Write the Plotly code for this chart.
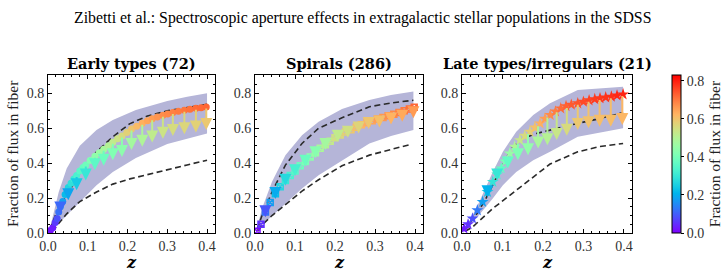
import math
import plotly.graph_objects as go
from plotly.colors import sample_colorscale

# ---------------- data ----------------
TITLES = ["Early types (72)", "Spirals (286)", "Late types/irregulars (21)"]

# Panel 1 : Early types
p1_z = [0.006, 0.012, 0.018, 0.023, 0.027, 0.031, 0.037, 0.043, 0.051, 0.058, 0.065, 0.072, 0.080, 0.088,
        0.095, 0.106, 0.118, 0.129, 0.140, 0.152, 0.163, 0.175, 0.186, 0.198, 0.210, 0.223, 0.237, 0.250,
        0.262, 0.275, 0.289, 0.301, 0.314, 0.328, 0.343, 0.357, 0.372, 0.385, 0.398]
p1_f = [0.015, 0.030, 0.060, 0.083, 0.120, 0.150, 0.180, 0.220, 0.260, 0.285, 0.310, 0.330, 0.355, 0.375,
        0.390, 0.415, 0.440, 0.460, 0.480, 0.500, 0.520, 0.540, 0.555, 0.575, 0.595, 0.612, 0.628, 0.643,
        0.655, 0.665, 0.675, 0.682, 0.690, 0.697, 0.703, 0.709, 0.714, 0.718, 0.722]
p1_arrow_z = [0.031, 0.051, 0.072, 0.095, 0.118, 0.140, 0.163, 0.186, 0.210, 0.237, 0.262, 0.289, 0.314, 0.343, 0.372, 0.398]
p1_arrow_top = [0.150, 0.260, 0.330, 0.390, 0.440, 0.480, 0.520, 0.555, 0.595, 0.628, 0.655, 0.675, 0.690, 0.703, 0.714, 0.722]
p1_arrow_tip = [0.111, 0.188, 0.245, 0.300, 0.360, 0.385, 0.417, 0.436, 0.475, 0.494, 0.519, 0.540, 0.555, 0.565, 0.576, 0.590]
p1_band_z = [0.003, 0.012, 0.027, 0.047, 0.080, 0.122, 0.163, 0.221, 0.300, 0.350, 0.400]
p1_band_hi = [0.010, 0.100, 0.235, 0.370, 0.500, 0.590, 0.647, 0.704, 0.756, 0.780, 0.800]
p1_band_lo = [0.000, 0.020, 0.054, 0.100, 0.178, 0.274, 0.350, 0.430, 0.510, 0.540, 0.570]
p1_dash_hi_z = [0.005, 0.020, 0.047, 0.080, 0.122, 0.163, 0.205, 0.250, 0.300, 0.350, 0.400]
p1_dash_hi = [0.020, 0.110, 0.216, 0.340, 0.465, 0.551, 0.625, 0.670, 0.700, 0.720, 0.737]
p1_dash_lo_z = [0.010, 0.020, 0.047, 0.080, 0.122, 0.163, 0.206, 0.250, 0.300, 0.350, 0.400]
p1_dash_lo = [0.010, 0.035, 0.110, 0.180, 0.235, 0.280, 0.310, 0.335, 0.365, 0.390, 0.417]

# Panel 2 : Spirals
p2_z = [0.005, 0.015, 0.026, 0.038, 0.051, 0.063, 0.076, 0.088, 0.100, 0.113, 0.126, 0.138, 0.151, 0.163,
        0.176, 0.188, 0.200, 0.213, 0.226, 0.240, 0.253, 0.266, 0.280, 0.293, 0.306, 0.320, 0.333, 0.347,
        0.360, 0.373, 0.386, 0.398]
p2_f = [0.010, 0.050, 0.120, 0.175, 0.225, 0.265, 0.300, 0.330, 0.355, 0.385, 0.410, 0.435, 0.460, 0.485,
        0.505, 0.525, 0.545, 0.562, 0.578, 0.592, 0.606, 0.620, 0.632, 0.643, 0.653, 0.662, 0.672, 0.680,
        0.690, 0.700, 0.710, 0.720]
p2_arrow_z = [0.026, 0.051, 0.076, 0.100, 0.126, 0.151, 0.176, 0.207, 0.232, 0.259, 0.284, 0.311, 0.340, 0.368, 0.396]
p2_arrow_top = [0.120, 0.225, 0.300, 0.355, 0.410, 0.460, 0.505, 0.565, 0.588, 0.614, 0.640, 0.660, 0.678, 0.695, 0.718]
p2_arrow_tip = [0.090, 0.195, 0.270, 0.325, 0.380, 0.428, 0.475, 0.522, 0.545, 0.570, 0.595, 0.605, 0.622, 0.637, 0.657]
p2_band_z = [0.003, 0.0175, 0.0425, 0.076, 0.1175, 0.159, 0.2175, 0.286, 0.340, 0.396]
p2_band_hi = [0.010, 0.140, 0.293, 0.446, 0.560, 0.637, 0.710, 0.762, 0.790, 0.810]
p2_band_lo = [0.000, 0.044, 0.100, 0.169, 0.255, 0.331, 0.417, 0.513, 0.555, 0.590]
p2_dash_hi_z = [0.005, 0.0175, 0.0425, 0.076, 0.1175, 0.159, 0.2175, 0.286, 0.340, 0.396]
p2_dash_hi = [0.020, 0.100, 0.235, 0.389, 0.513, 0.600, 0.660, 0.723, 0.745, 0.760]
p2_dash_lo_z = [0.008, 0.0175, 0.0425, 0.076, 0.1175, 0.159, 0.2175, 0.286, 0.340, 0.388]
p2_dash_lo = [0.010, 0.045, 0.100, 0.165, 0.240, 0.305, 0.385, 0.446, 0.480, 0.507]

# Panel 3 : Late types / irregulars
p3_z = [0.005, 0.015, 0.026, 0.038, 0.051, 0.063, 0.076, 0.087, 0.097, 0.107, 0.118, 0.130, 0.143, 0.155,
        0.168, 0.180, 0.193, 0.205, 0.218, 0.231, 0.244, 0.257, 0.270, 0.286, 0.300, 0.314, 0.328, 0.341,
        0.355, 0.369, 0.383, 0.398]
p3_f = [0.025, 0.050, 0.083, 0.130, 0.178, 0.235, 0.293, 0.335, 0.370, 0.410, 0.456, 0.495, 0.532, 0.557,
        0.580, 0.604, 0.628, 0.655, 0.676, 0.696, 0.714, 0.727, 0.735, 0.743, 0.752, 0.760, 0.767, 0.772,
        0.777, 0.781, 0.788, 0.794]
p3_arrow_z = [0.038, 0.063, 0.087, 0.113, 0.138, 0.163, 0.188, 0.211, 0.234, 0.259, 0.286, 0.3125, 0.340, 0.3675, 0.396]
p3_arrow_top = [0.130, 0.235, 0.335, 0.440, 0.520, 0.575, 0.620, 0.670, 0.700, 0.725, 0.743, 0.760, 0.770, 0.780, 0.794]
p3_arrow_tip = [0.110, 0.205, 0.300, 0.370, 0.417, 0.446, 0.484, 0.503, 0.532, 0.557, 0.590, 0.600, 0.608, 0.608, 0.618]
p3_band_z = [0.003, 0.0175, 0.0425, 0.076, 0.101, 0.134, 0.176, 0.2175, 0.286, 0.340, 0.398]
p3_band_hi = [0.010, 0.063, 0.178, 0.350, 0.465, 0.580, 0.676, 0.743, 0.819, 0.830, 0.838]
p3_band_lo = [0.000, 0.034, 0.100, 0.197, 0.274, 0.350, 0.417, 0.465, 0.551, 0.575, 0.600]
p3_dash_hi_z = [0.005, 0.034, 0.059, 0.084, 0.109, 0.126, 0.151, 0.184, 0.2175, 0.286, 0.340, 0.398]
p3_dash_hi = [0.020, 0.100, 0.197, 0.312, 0.427, 0.494, 0.542, 0.570, 0.590, 0.628, 0.655, 0.690]
p3_dash_lo_z = [0.008, 0.026, 0.076, 0.1175, 0.159, 0.2175, 0.286, 0.340, 0.398]
p3_dash_lo = [0.010, 0.034, 0.140, 0.216, 0.293, 0.395, 0.465, 0.495, 0.513]

PANELS = [
    dict(z=p1_z, f=p1_f, az=p1_arrow_z, at=p1_arrow_top, ap=p1_arrow_tip, bz=p1_band_z, bh=p1_band_hi,
         bl=p1_band_lo, dhz=p1_dash_hi_z, dh=p1_dash_hi, dlz=p1_dash_lo_z, dl=p1_dash_lo, sym="circle"),
    dict(z=p2_z, f=p2_f, az=p2_arrow_z, at=p2_arrow_top, ap=p2_arrow_tip, bz=p2_band_z, bh=p2_band_hi,
         bl=p2_band_lo, dhz=p2_dash_hi_z, dh=p2_dash_hi, dlz=p2_dash_lo_z, dl=p2_dash_lo, sym="square-x-open"),
    dict(z=p3_z, f=p3_f, az=p3_arrow_z, at=p3_arrow_top, ap=p3_arrow_tip, bz=p3_band_z, bh=p3_band_hi,
         bl=p3_band_lo, dhz=p3_dash_hi_z, dh=p3_dash_hi, dlz=p3_dash_lo_z, dl=p3_dash_lo, sym="star"),
]

CMIN, CMAX = 0.0, 0.83

# matplotlib "rainbow" colormap
def rainbow(t):
    r = min(1.0, abs(2 * t - 0.5))
    g = math.sin(math.pi * t)
    b = math.cos(math.pi * t / 2)
    return "rgb(%d,%d,%d)" % (round(255 * r), round(255 * max(0, g)), round(255 * max(0, b)))

RAINBOW = [[i / 20, rainbow(i / 20)] for i in range(21)]

W, H = 724, 274
XDOM = [(48, 215), (255, 423), (462, 632)]
YTOP, YBOT = 75, 233
TIMES = "Liberation Serif"
CM = "DejaVu Serif"
BAND = "rgb(181,181,216)"

fig = go.Figure()
annotations = []

for i, p in enumerate(PANELS):
    xa = "x" if i == 0 else "x%d" % (i + 1)
    ya = "y" if i == 0 else "y%d" % (i + 1)
    # band
    fig.add_trace(go.Scatter(x=p["bz"] + p["bz"][::-1], y=p["bh"] + p["bl"][::-1], fill="toself",
                             fillcolor=BAND, line=dict(width=0), mode="lines", hoverinfo="skip",
                             showlegend=False, xaxis=xa, yaxis=ya))
    # dashed lines
    for zz, vv in ((p["dhz"], p["dh"]), (p["dlz"], p["dl"])):
        fig.add_trace(go.Scatter(x=zz, y=vv, mode="lines", line=dict(color="#2a2a2a", width=1.6, dash="6px,3.5px"),
                                 showlegend=False, xaxis=xa, yaxis=ya))
    # points
    marker = dict(color=p["f"], coloraxis="coloraxis", symbol=p["sym"], size=7, line=dict(width=0))
    if p["sym"] == "square-x-open":
        marker = dict(color=p["f"], coloraxis="coloraxis", symbol=p["sym"], size=6, line=dict(width=1.5))
    if p["sym"] == "star":
        marker["size"] = 9
    fig.add_trace(go.Scatter(x=p["z"], y=p["f"], mode="markers", marker=marker,
                             showlegend=False, xaxis=xa, yaxis=ya))
    # arrows
    cols = sample_colorscale(RAINBOW, [(v - CMIN) / (CMAX - CMIN) for v in p["ap"]])
    for zz, top, tip, c in zip(p["az"], p["at"], p["ap"], cols):
        annotations.append(dict(x=zz, y=tip, ax=zz, ay=top, xref=xa, yref=ya, axref=xa, ayref=ya,
                                showarrow=True, arrowhead=2, arrowsize=1.2, arrowwidth=2, arrowcolor=c, text=""))
    # panel title
    x0, x1 = XDOM[i]
    annotations.append(dict(x=(x0 + x1) / 2 / W, y=1 - 63 / H, xref="paper", yref="paper", text="<b>%s</b>" % TITLES[i],
                            showarrow=False, font=dict(family=CM, size=14.5, color="black"),
                            xanchor="center", yanchor="middle"))
    annotations.append(dict(x=(x0 + x1) / 2 / W, y=1 - 262 / H, xref="paper", yref="paper", text="<b><i>z</i></b>",
                            showarrow=False, font=dict(family=CM, size=16, color="black"),
                            xanchor="center", yanchor="middle"))

axis_common = dict(showline=True, linecolor="black", linewidth=1, mirror="allticks", ticks="inside",
                   ticklen=4, tickcolor="black", showgrid=False, zeroline=False, tickformat=".1f",
                   automargin=False, tickfont=dict(family=TIMES, size=14, color="#333"))
for i in range(3):
    x0, x1 = XDOM[i]
    xk = "xaxis" if i == 0 else "xaxis%d" % (i + 1)
    yk = "yaxis" if i == 0 else "yaxis%d" % (i + 1)
    fig.layout[xk] = dict(axis_common, domain=[x0 / W, x1 / W], range=[0, 0.42], dtick=0.1, tick0=0,
                          minor=dict(dtick=0.02, ticks="inside", ticklen=2, tickcolor="black"),
                          anchor="y" if i == 0 else "y%d" % (i + 1))
    fig.layout[yk] = dict(axis_common, domain=[1 - YBOT / H, 1 - YTOP / H], range=[0, 0.905], dtick=0.2, tick0=0,
                          minor=dict(dtick=0.05, ticks="inside", ticklen=2, tickcolor="black"),
                          anchor="x" if i == 0 else "x%d" % (i + 1))

annotations.append(dict(x=0.5, y=1 - 18 / H, xref="paper", yref="paper",
                        text="Zibetti et al.: Spectroscopic aperture effects in extragalactic stellar populations in the SDSS",
                        showarrow=False, font=dict(family=TIMES, size=15.8, color="black"),
                        xanchor="center", yanchor="middle"))
annotations.append(dict(x=12 / W, y=1 - 154 / H, xref="paper", yref="paper", text="Fraction of flux in fiber",
                        textangle=-90, showarrow=False, font=dict(family=TIMES, size=15.5, color="#222"),
                        xanchor="center", yanchor="middle"))

fig.update_layout(
    width=W, height=H, margin=dict(l=0, r=0, t=0, b=0, autoexpand=False), paper_bgcolor="white", plot_bgcolor="white",
    font=dict(family=TIMES),
    annotations=annotations,
    coloraxis=dict(colorscale=RAINBOW, cmin=CMIN, cmax=CMAX,
                   colorbar=dict(x=672 / W, xanchor="left", y=1 - 154 / H, yanchor="middle", len=(YBOT - YTOP) / H,
                                 lenmode="fraction", thickness=9, outlinewidth=1, outlinecolor="black",
                                 ticks="outside", ticklen=3, tickcolor="black", dtick=0.2, tick0=0, tickformat=".1f",
                                 tickfont=dict(family=TIMES, size=14, color="#333"), xpad=0, ypad=0,
                                 title=dict(text="Fraction of flux in fiber", side="right",
                                            font=dict(family=TIMES, size=15.5, color="#222")))),
)

fig.write_html("out.html")
